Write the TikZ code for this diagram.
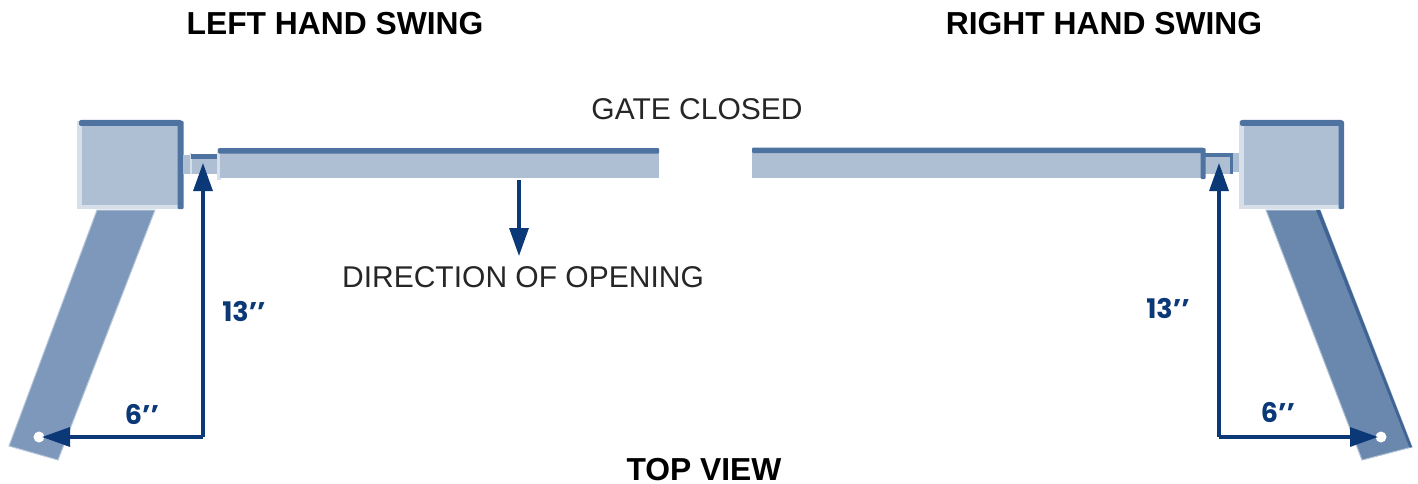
\documentclass[tikz,border=0pt]{standalone}
\usepackage{fontspec}
\setmainfont{Liberation Sans}
\newfontfamily\dimfont{Poppins}
\usetikzlibrary{arrows.meta}
\definecolor{face}{HTML}{AEBFD3}
\definecolor{band}{HTML}{4F73A0}
\definecolor{pale}{HTML}{D6DFEA}
\definecolor{armL}{HTML}{7D98BA}
\definecolor{armR}{HTML}{6A88AD}
\definecolor{armE}{HTML}{3F6494}
\definecolor{navy}{HTML}{0B3877}
\tikzset{
  title/.style={font=\bfseries\fontsize{31.8}{36}\selectfont,text=black,inner sep=0pt},
  plain/.style={font=\fontsize{30}{36}\selectfont,text=black!85,inner sep=0pt},
  dim/.style={font=\dimfont\bfseries\fontsize{27}{30}\selectfont,text=navy,inner sep=0pt},
  conn/.style={draw=navy,line width=3.2pt,line join=miter,-{Triangle[length=28pt,width=19pt]}},
}
\begin{document}
\begin{tikzpicture}[x=1pt,y=-1pt]
\useasboundingbox (0,0) rectangle (1418,484);
% left arm
\fill[armL,draw=armL!55!white,line width=1pt] (97,210) -- (155,210) -- (58,460) -- (9,446) -- cycle;
\fill[white] (39,437) circle (5.5);
% left box
\fill[pale] (77,121) rectangle (180,209);
\fill[face] (82,124) rectangle (179,205);
\fill[band,rounded corners=2pt] (79,120) rectangle (182,126);
\fill[band,rounded corners=1pt] (177.5,121) rectangle (183.5,209);
% left neck
\fill[face] (183,155) rectangle (190,174);
\fill[pale] (190,153) rectangle (192,174);
\fill[face] (192,155) rectangle (217,174);
\fill[band] (191,154) rectangle (217,158.5);
% left gate
\fill[pale] (216.5,149) rectangle (221,180);
\fill[face] (220,150) rectangle (659,178);
\fill[band,rounded corners=1pt] (218,148) rectangle (659,153.5);
% right arm
\fill[armR,draw=armR!55!white,line width=1pt] (1266,210) -- (1320,210) -- (1412,447) -- (1362,460) -- cycle;
\fill[armE] (1316,210) -- (1320,210) -- (1412,447) -- (1409.5,447.6) -- cycle;
\fill[white] (1381,437) circle (5.5);
% right box
\fill[pale] (1239,121) rectangle (1342,209);
\fill[face] (1244,124) rectangle (1341,205);
\fill[band,rounded corners=2pt] (1240,120) rectangle (1343,126);
\fill[band,rounded corners=1pt] (1338.5,121) rectangle (1344,209);
% right neck
\fill[face] (1232,153) rectangle (1239,172);
\fill[face] (1205,155) rectangle (1231,174);
\fill[band] (1205,152.5) rectangle (1232,156.5);
\fill[band] (1229.5,153) rectangle (1232.5,174);
% right gate
\fill[face] (752,150) rectangle (1203,178);
\fill[band,rounded corners=1pt] (752,147.5) rectangle (1204,153);
\fill[band,rounded corners=1pt] (1200.5,148) rectangle (1205.5,179);
% text
\node[title] (lh) at (335,24) {LEFT HAND SWING};
\node[title] (rh) at (1104,24) {RIGHT HAND SWING};
\node[title] (tv) at (704,469.5) {TOP VIEW};
\node[plain] (gc) at (697,109) {GATE CLOSED};
\node[plain] (dir) at (523,277) {DIRECTION OF OPENING};
\node[dim] (a13) at (244,311) {13’{}’};
\node[dim] (b13) at (1168,308) {13’{}’};
\node[dim] (a6) at (142,414) {6’{}’};
\node[dim] (b6) at (1278,412) {6’{}’};
% connectors
\coordinate (lc) at (203,437);
\coordinate (lt) at (203,163);
\coordinate (lh2) at (42,437);
\coordinate (rc) at (1219,437);
\coordinate (rt) at (1219,163);
\coordinate (rh2) at (1378,437);
\coordinate (ds) at (519,180);
\coordinate (de) at (519,256);
\draw[conn] (lc) -- (lt);
\draw[conn] (lc) -- (lh2);
\draw[conn] (rc) -- (rt);
\draw[conn] (rc) -- (rh2);
\draw[conn] (ds) -- (de);
\end{tikzpicture}
\end{document}
